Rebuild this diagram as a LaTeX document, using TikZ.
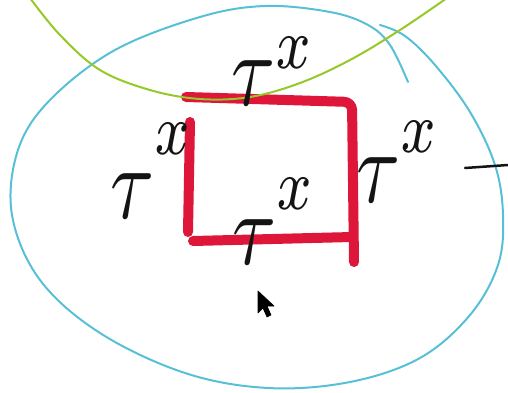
\documentclass[tikz,border=0pt]{standalone}
\usepackage{graphicx}
\definecolor{boxred}{RGB}{222,22,58}
\definecolor{loopcyan}{RGB}{88,192,214}
\definecolor{arcgreen}{RGB}{150,200,40}
\definecolor{ink}{RGB}{20,20,20}
\tikzset{
  redstroke/.style={draw=boxred,line width=10pt,line cap=round,line join=round},
  cyanstroke/.style={draw=loopcyan,line width=2pt,line cap=round},
  greenstroke/.style={draw=arcgreen,line width=2pt,line cap=round},
  taulabel/.style={anchor=base west,inner sep=0pt,text=ink},
  dashmark/.style={draw=ink,line width=2.5pt,line cap=round},
  cursorshape/.style={fill=black,draw=black,line width=0.6pt,line join=round}
}
\newcommand{\handtau}[1]{\scalebox{8}[10.4]{$\tau^{\raisebox{#1}{$\scriptstyle x$}}$}}
\begin{document}
\begin{tikzpicture}[x=1pt,y=-1pt]
\useasboundingbox (0,0) rectangle (508,393);
% cyan loop with tail
\draw[cyanstroke] plot[smooth,tension=0.6] coordinates {
 (380,25) (405,36) (435,65) (470,112) (495,165) (503,215) (498,265)
 (470,315) (420,358) (350,382) (268,388) (185,373) (100,333) (40,280)
 (12,215) (18,150) (50,100) (115,50) (200,17) (265,6) (330,12)
 (368,25) (390,45) (408,82)};
% red square
\draw[redstroke,rounded corners=8pt] (186,97) -- (352,102) -- (354,262);
\draw[redstroke] (190,122) -- (188,232);
\draw[redstroke] (193,241) -- (352,237);
% green arc
\draw[greenstroke] plot[smooth,tension=0.6] coordinates {
 (30,-2) (60,35) (100,70) (150,90) (200,99) (250,97) (300,83) (350,60) (400,30) (447,-2)};
% labels
\node[taulabel] (ttop) at (231,106) {\handtau{0pt}};
\node[taulabel] (tleft) at (110,218) {\handtau{2.5pt}};
\node[taulabel] (tright) at (356,202) {\handtau{1.1pt}};
\node[taulabel] (tbottom) at (232,264) {\handtau{1.6pt}};
% dash at right
\coordinate (d1) at (465,168);
\coordinate (d2) at (508,165);
\draw[dashmark] (d1) -- (d2);
% mouse cursor
\draw[cursorshape] (258,291) -- (258,313) -- (263,308) -- (267,317) -- (271,315) -- (267,306) -- (274,306) -- cycle;
\end{tikzpicture}
\end{document}
